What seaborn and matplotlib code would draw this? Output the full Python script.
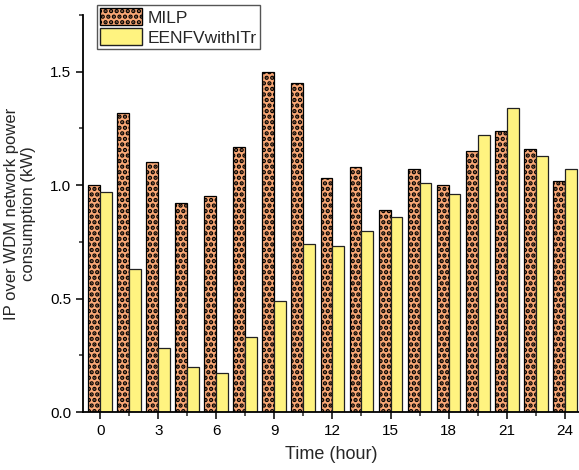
import matplotlib
matplotlib.use("Agg")
import matplotlib.pyplot as plt
from matplotlib.patches import Patch
from matplotlib.ticker import FixedLocator, MultipleLocator
import seaborn as sns
import pandas as pd

hours = [0, 1.5, 3, 4.5, 6, 7.5, 9, 10.5, 12, 13.5, 15, 16.5, 18, 19.5, 21, 22.5, 24]
milp = [1.00, 1.32, 1.10, 0.92, 0.95, 1.17, 1.50, 1.45, 1.03, 1.08, 0.89, 1.07, 1.00, 1.15, 1.24, 1.16, 1.02]
eenfv = [0.97, 0.63, 0.28, 0.20, 0.17, 0.33, 0.49, 0.74, 0.73, 0.80, 0.86, 1.01, 0.96, 1.22, 1.34, 1.13, 1.07]
series_names = ["MILP", "EENFVwithITr"]
tick_labels = ["0", "3", "6", "9", "12", "15", "18", "21", "24"]

colors = {"MILP": "#F9A876", "EENFVwithITr": "#FFF380"}

sns.set_style("ticks")
plt.rcParams["font.family"] = ["Liberation Sans", "DejaVu Sans"]
plt.rcParams["hatch.linewidth"] = 2.2
plt.rcParams["hatch.color"] = "black"

df = pd.DataFrame({
    "Time": [str(h) for h in hours] * 2,
    "Value": milp + eenfv,
    "Method": [series_names[0]] * len(hours) + [series_names[1]] * len(hours),
})
order = [str(h) for h in hours]

fig = plt.figure(figsize=(5.79, 4.70), dpi=100)
ax = fig.add_axes([0.1434, 0.1234, 0.856, 0.8447])

sns.barplot(data=df, x="Time", y="Value", hue="Method", order=order,
            hue_order=series_names, palette=colors, width=0.82, gap=0,
            edgecolor="#222222", linewidth=0.9, saturation=1, legend=False, ax=ax)

for bar in ax.containers[0]:
    bar.set_hatch("...")
    bar.set_edgecolor("black")

ax.set_xlim(-0.59, 16.48)
ax.set_ylim(0, 1.75)

ax.xaxis.set_major_locator(FixedLocator(list(range(0, len(hours), 2))))
ax.set_xticklabels(tick_labels)
ax.xaxis.set_minor_locator(FixedLocator(list(range(1, len(hours), 2))))
ax.yaxis.set_major_locator(MultipleLocator(0.5))
ax.yaxis.set_minor_locator(MultipleLocator(0.25))
ax.yaxis.set_major_formatter(matplotlib.ticker.FormatStrFormatter("%.1f"))

ax.tick_params(axis="both", which="major", direction="out", length=5, width=1.1,
               labelsize=11, colors="black")
ax.tick_params(axis="both", which="minor", direction="out", length=3, width=1.1)

for s in ["top", "right"]:
    ax.spines[s].set_visible(False)
for s in ["left", "bottom"]:
    ax.spines[s].set_linewidth(1.3)
    ax.spines[s].set_color("black")

ax.set_xlabel("Time (hour)", fontsize=13, labelpad=6)
ax.set_ylabel("IP over WDM network power\nconsumption (kW)", fontsize=12, labelpad=6)
ax.yaxis.set_label_coords(-0.095, 0.5)

handles = [
    Patch(facecolor=colors["MILP"], edgecolor="black", hatch="...", label="MILP"),
    Patch(facecolor=colors["EENFVwithITr"], edgecolor="#222222", label="EENFVwithITr"),
]
leg = ax.legend(handles=handles, loc="upper left", bbox_to_anchor=(97 / 579, 1 - 5 / 470),
                bbox_transform=fig.transFigure, borderaxespad=0, fontsize=12.5,
                handlelength=2.4, handleheight=1.1, handletextpad=0.3,
                borderpad=0.2, labelspacing=0.15, fancybox=False, framealpha=1)
leg.get_frame().set_edgecolor("#555555")
leg.get_frame().set_linewidth(1.0)

fig.savefig("out.png", dpi=100)
